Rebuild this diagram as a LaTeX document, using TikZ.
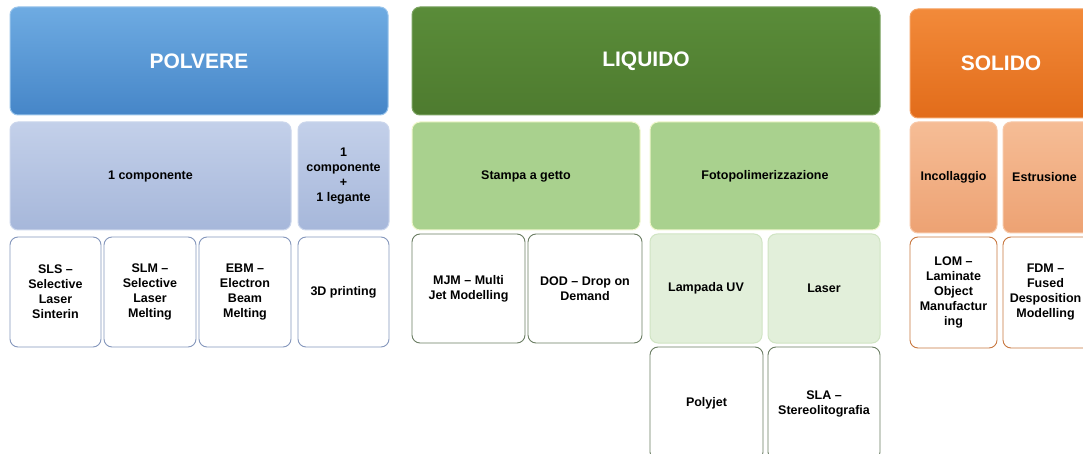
\documentclass[tikz,border=0pt]{standalone}
\usepackage{fontspec}
\setmainfont{Liberation Sans}
\usetikzlibrary{shapes.misc}
\definecolor{bluetop}{HTML}{6EABE2}
\definecolor{bluebot}{HTML}{4686C8}
\definecolor{bluesub}{HTML}{B4C4E4}
\definecolor{bluesubd}{HTML}{A6B7DA}
\definecolor{bluebrd}{HTML}{8597BC}
\definecolor{greentop}{HTML}{5A8C39}
\definecolor{greenbot}{HTML}{4E7B2F}
\definecolor{greensub}{HTML}{A9D18E}
\definecolor{greenpale}{HTML}{E2EFDA}
\definecolor{greenpbrd}{HTML}{D0E4C3}
\definecolor{greenbrd}{HTML}{6B7D63}
\definecolor{orgtop}{HTML}{F28A3A}
\definecolor{orgbot}{HTML}{E26C1A}
\definecolor{orgsub}{HTML}{F4B183}
\definecolor{orgsubd}{HTML}{EDA273}
\definecolor{orgbrd}{HTML}{C8773F}
\newcommand\bx[7]{\node[#6, minimum width={#4-#2}, minimum height={#5-#3}] (#1) at ({(#2+#4)/2},{(#3+#5)/2}) {#7};}
\tikzset{
  base/.style={rounded corners=8pt, inner sep=2pt, outer sep=0pt, align=center,
    font=\bfseries\fontsize{12.5}{15}\selectfont},
  head/.style={base, text=white, font=\bfseries\fontsize{21}{24}\selectfont, line width=1pt},
  hblue/.style={head, top color=bluetop, bottom color=bluebot, draw=bluetop!70!white},
  hgreen/.style={head, top color=greentop, bottom color=greenbot, draw=greentop!80!white},
  horange/.style={head, top color=orgtop, bottom color=orgbot, draw=orgtop!80!white},
  sblue/.style={base, top color=bluesub!80!white, bottom color=bluesubd, draw=bluesub!70!white, line width=1pt},
  sgreen/.style={base, fill=greensub, draw=greensub!60!yellow!30!white, line width=1pt},
  sorange/.style={base, top color=orgsub!85!white, bottom color=orgsubd, draw=orgsub!70!white, line width=1pt},
  spale/.style={base, fill=greenpale, draw=greenpbrd, line width=1pt},
  wblue/.style={base, fill=white, draw=bluebrd, line width=0.9pt},
  wgreen/.style={base, fill=white, draw=greenbrd, line width=0.9pt},
  worange/.style={base, fill=white, draw=orgbrd, line width=0.9pt},
}
\begin{document}
\begin{tikzpicture}[x=1pt,y=-1pt]
\useasboundingbox[fill=white] (0,0) rectangle (1083,454);
% POLVERE
\bx{polvere}{10}{7}{388}{115}{hblue}{POLVERE}
\bx{comp}{10}{122}{291}{230}{sblue}{1 componente}
\bx{legante}{298}{122}{389}{230}{sblue}{1\\componente\\+\\1 legante}
\bx{sls}{10}{237}{101}{347}{wblue}{SLS --\\Selective\\Laser\\Sinterin}
\bx{slm}{104}{237}{196}{347}{wblue}{SLM --\\Selective\\Laser\\Melting}
\bx{ebm}{199}{237}{291}{347}{wblue}{EBM --\\Electron\\Beam\\Melting}
\bx{tdp}{298}{237}{389}{347}{wblue}{3D printing}
% LIQUIDO
\bx{liquido}{412}{7}{880}{115}{hgreen}{LIQUIDO}
\bx{getto}{412}{122}{640}{230}{sgreen}{Stampa a getto}
\bx{foto}{650}{122}{880}{230}{sgreen}{Fotopolimerizzazione}
\bx{mjm}{412}{234}{525}{343}{wgreen}{MJM -- Multi\\Jet Modelling}
\bx{dod}{528}{234}{642}{343}{wgreen}{DOD -- Drop on\\Demand}
\bx{uv}{650}{234}{762}{343}{spale}{Lampada UV}
\bx{laser}{768}{234}{880}{343}{spale}{Laser}
\bx{polyjet}{650}{347}{763}{460}{wgreen}{Polyjet}
\bx{sla}{768}{347}{880}{460}{wgreen}{SLA --\\Stereolitografia}
% SOLIDO
\bx{solido}{910}{9}{1092}{118}{horange}{SOLIDO}
\bx{incoll}{910}{122}{997}{233}{sorange}{Incollaggio}
\bx{estr}{1003}{122}{1092}{233}{sorange}{\hspace*{-6pt}Estrusione}
\bx{lom}{910}{237}{997}{348}{worange}{LOM --\\Laminate\\Object\\Manufactur\\ing}
\bx{fdm}{1003}{237}{1092}{348}{worange}{\hspace*{-4pt}FDM --\\\hspace*{-4pt}Fused\\\hspace*{-4pt}Desposition\\\hspace*{-4pt}Modelling}
\end{tikzpicture}
\end{document}
